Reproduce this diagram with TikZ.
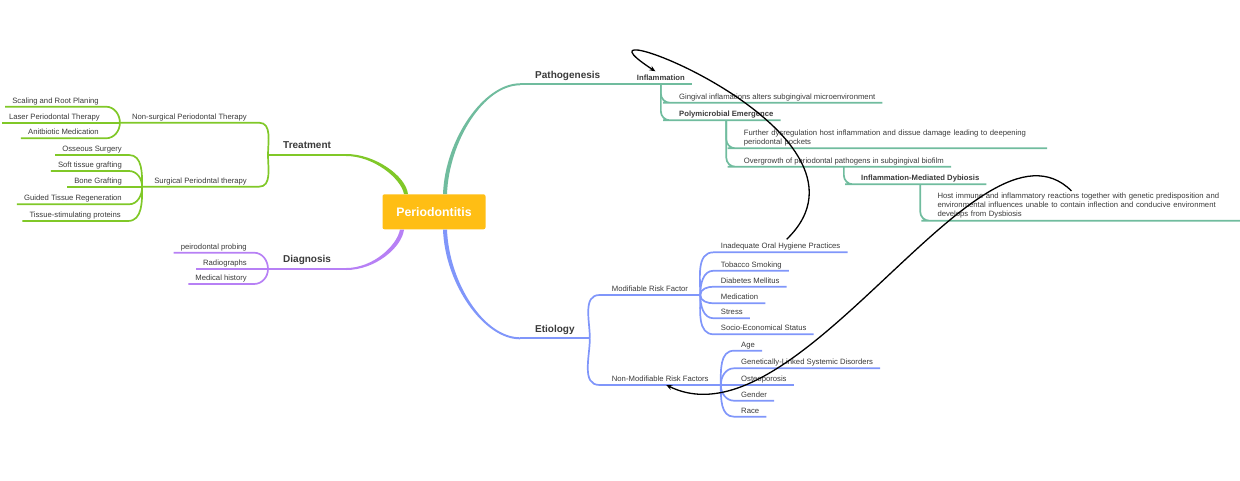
\documentclass[tikz,border=0pt]{standalone}
\usepackage{fontspec}
\setmainfont{Liberation Sans}
\usetikzlibrary{arrows.meta}
\tikzset{>={Stealth[length=6pt,width=5pt]}}
\definecolor{ink}{RGB}{58,58,58}
\definecolor{rootamber}{RGB}{255,190,20}
\definecolor{treatgreen}{RGB}{128,200,40}
\definecolor{diagpurple}{RGB}{183,128,245}
\definecolor{pathteal}{RGB}{112,188,158}
\definecolor{etioblue}{RGB}{128,150,250}
\tikzset{
	leaf/.style={font=\fontsize{7.7}{9}\selectfont, text=ink, inner xsep=7pt, inner ysep=3.5pt, text depth=0pt},
	boldleaf/.style={leaf, font=\bfseries\fontsize{7.7}{9}\selectfont},
	sub/.style={leaf, inner xsep=12pt},
	branch/.style={font=\bfseries\fontsize{10}{12}\selectfont, text=ink, inner xsep=15pt, inner ysep=6pt, text depth=0pt},
	para/.style={font=\fontsize{7.7}{9.1}\selectfont, text=ink, inner xsep=7pt, inner ysep=2pt, text width=296pt, align=left},
	rootbox/.style={fill=rootamber, rounded corners=2pt, minimum width=103pt, minimum height=35pt, inner sep=0pt, text=white, font=\bfseries\fontsize{12.3}{14}\selectfont},
	link/.style={line width=1.7pt},
	rel/.style={->, line width=1.3pt, black}
}

\begin{document}
\begin{tikzpicture}[x=1pt,y=-1pt]
	\useasboundingbox (0,0) rectangle (1240,480);
	\node [rootbox] (root) at (434,211.8) {Periodontitis};
	% left side
	\node [branch, anchor=south west] (treat) at (268,155) {Treatment};
	\node [sub, anchor=south east] (nonsurg) at (259,122.7) {Non-surgical Periodontal Therapy};
	\node [sub, anchor=south east] (surg) at (259,186.7) {Surgical Periodntal therapy};
	\node [leaf, anchor=south east] (scaling) at (106,106.7) {Scaling and Root Planing};
	\node [leaf, anchor=south east] (laser) at (107,122.7) {Laser Periodontal Therapy};
	\node [leaf, anchor=south east] (antibio) at (106,138.3) {Anitbiotic Medication};
	\node [leaf, anchor=south east] (osseous) at (129,155) {Osseous Surgery};
	\node [leaf, anchor=south east] (softgraft) at (129,171) {Soft tissue grafting};
	\node [leaf, anchor=south east] (bonegraft) at (129,186.7) {Bone Grafting};
	\node [leaf, anchor=south east] (guided) at (129,204.3) {Guided Tissue Regeneration};
	\node [leaf, anchor=south east] (stim) at (128,221) {Tissue-stimulating proteins};
	\node [branch, anchor=south west] (diag) at (268,269) {Diagnosis};
	\node [leaf, anchor=south east] (probing) at (254,252.7) {peirodontal probing};
	\node [leaf, anchor=south east] (radio) at (254,269) {Radiographs};
	\node [leaf, anchor=south east] (medhist) at (254,284) {Medical history};
	% right side
	\node [branch, anchor=south west] (patho) at (520,84.3) {Pathogenesis};
	\node [boldleaf, anchor=south west] (inflam) at (629.7,84.3) {Inflammation};
	\node [leaf, anchor=south west] (gingival) at (672,102.7) {Gingival inflamations alters subgingival microenvironment};
	\node [boldleaf, anchor=south west] (poly) at (672,120.3) {Polymicrobial Emergence};
	\node [para, anchor=south west] (further) at (736.7,148.3) {Further dysregulation host inflammation and dissue damage leading to deepening\\periodontal pockets};
	\node [leaf, anchor=south west] (overgrowth) at (736.7,166.7) {Overgrowth of periodontal pathogens in subgingival biofilm};
	\node [boldleaf, anchor=south west] (dysb) at (854,184.3) {Inflammation-Mediated Dybiosis};
	\node [para, anchor=south west] (host) at (930.3,220.7) {Host immune and inflammatory reactions together with genetic predisposition and\\environmental influences unable to contain inflection and conducive environment\\develops from Dysbiosis};
	\node [branch, anchor=south west] (etio) at (520,338.3) {Etiology};
	\node [sub, anchor=south west] (modif) at (599.7,295) {Modifiable Risk Factor};
	\node [sub, anchor=south west] (nonmod) at (599.7,385) {Non-Modifiable Risk Factors};
	\node [leaf, anchor=south west] (oral) at (713.7,252.3) {Inadequate Oral Hygiene Practices};
	\node [leaf, anchor=south west] (tobacco) at (713.7,270.7) {Tobacco Smoking};
	\node [leaf, anchor=south west] (diabetes) at (713.7,286.7) {Diabetes Mellitus};
	\node [leaf, anchor=south west] (medication) at (713.7,303.3) {Medication};
	\node [leaf, anchor=south west] (stress) at (713.7,318.3) {Stress};
	\node [leaf, anchor=south west] (socio) at (713.7,334.3) {Socio-Economical Status};
	\node [leaf, anchor=south west] (age) at (734,350.7) {Age};
	\node [leaf, anchor=south west] (genetic) at (734,368.3) {Genetically-Linked Systemic Disorders};
	\node [leaf, anchor=south west] (osteo) at (734,385) {Osteoporosis};
	\node [leaf, anchor=south west] (gender) at (734,400.7) {Gender};
	\node [leaf, anchor=south west] (race) at (734,416.7) {Race};

	% main branches
	\fill [treatgreen] ([xshift=-26pt]root.north) .. controls +(-2,-18) and +(29,0) .. ([yshift=1pt]treat.south east) -- ([yshift=-1pt]treat.south east) .. controls +(27,0) and +(-3,-16) .. ([xshift=-30pt]root.north) -- cycle;
	\fill [diagpurple] ([xshift=-30pt]root.south) .. controls +(-2,18) and +(29,0) .. ([yshift=-1pt]diag.south east) -- ([yshift=1pt]diag.south east) .. controls +(27,0) and +(-3,16) .. ([xshift=-34pt]root.south) -- cycle;
	\fill [pathteal] ([xshift=9pt]root.north) .. controls +(2,-55) and +(-36,0) .. ([yshift=1pt]patho.south west) -- ([yshift=-1pt]patho.south west) .. controls +(-36,0) and +(2,-53) .. ([xshift=13pt]root.north) -- cycle;
	\fill [etioblue] ([xshift=9pt]root.south) .. controls +(2,55) and +(-36,0) .. ([yshift=-1pt]etio.south west) -- ([yshift=1pt]etio.south west) .. controls +(-36,0) and +(2,53) .. ([xshift=13pt]root.south) -- cycle;

	% treatment
	\draw [link, treatgreen] (treat.south west) -- (treat.south east);
	\draw [link, treatgreen] (treat.south west) to [out=90, in=0] (nonsurg.south east) -- (nonsurg.south west);
	\draw [link, treatgreen] (treat.south west) to [out=270, in=0] (surg.south east) -- (surg.south west);
	\foreach \n/\a in {scaling/90, antibio/270}
		\draw [link, treatgreen] (nonsurg.south west) to [out=\a, in=0] (\n.south east) -- (\n.south west);
	\draw [link, treatgreen] (nonsurg.south west) -- (laser.south west);
	\foreach \n/\a in {osseous/90, softgraft/90, guided/270, stim/270}
		\draw [link, treatgreen] (surg.south west) to [out=\a, in=0] (\n.south east) -- (\n.south west);
	\draw [link, treatgreen] (surg.south west) -- (bonegraft.south west);

	% diagnosis
	\draw [link, diagpurple] (diag.south west) -- (diag.south east);
	\draw [link, diagpurple] (diag.south west) to [out=90, in=0] (probing.south east) -- (probing.south west);
	\draw [link, diagpurple] (diag.south west) -- (radio.south west);
	\draw [link, diagpurple] (diag.south west) to [out=270, in=0] (medhist.south east) -- (medhist.south west);

	% pathogenesis
	\draw [link, pathteal] (patho.south west) -- (patho.south east) -- (inflam.south west) -- (inflam.south east);
	\begin{scope}[link, pathteal, rounded corners=9pt]
		\draw (inflam.south) |- (gingival.south west) -- (gingival.south east);
		\draw (inflam.south) |- (poly.south west) -- (poly.south east);
		\draw (poly.south) |- (further.south west) -- (further.south east);
		\draw (poly.south) |- (overgrowth.south west) -- (overgrowth.south east);
		\draw (overgrowth.south) |- (dysb.south west) -- (dysb.south east);
		\draw (dysb.south) |- (host.south west) -- (host.south east);
	\end{scope}

	% etiology
	\draw [link, etioblue] (etio.south west) -- (etio.south east);
	\draw [link, etioblue] (etio.south east) to [out=90, in=180] (modif.south west) -- (modif.south east);
	\draw [link, etioblue] (etio.south east) to [out=270, in=180] (nonmod.south west) -- (nonmod.south east);
	\foreach \n/\a in {oral/90, tobacco/90, diabetes/90, medication/270, stress/270, socio/270}
		\draw [link, etioblue] (modif.south east) to [out=\a, in=180] (\n.south west) -- (\n.south east);
	\foreach \n/\a in {age/90, genetic/90, gender/270, race/270}
		\draw [link, etioblue] (nonmod.south east) to [out=\a, in=180] (\n.south west) -- (\n.south east);
	\draw [link, etioblue] (nonmod.south east) -- (osteo.south east);

	% relationships
	\draw [rel] ([xshift=6pt]oral.north) .. controls (900,130) and (545,0) .. (inflam.130);
	\draw [rel] ([xshift=-14pt]host.north) .. controls (980,100) and (800,450) .. ([xshift=6pt]nonmod.south);
\end{tikzpicture}
\end{document}
